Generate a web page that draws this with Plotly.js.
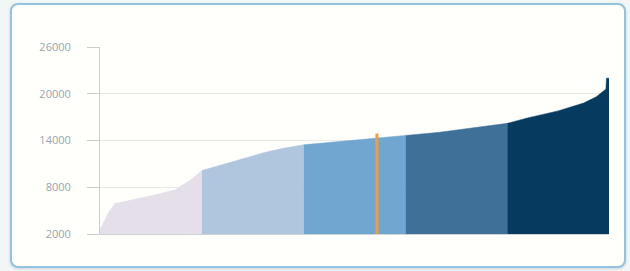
<!DOCTYPE html>
<html>
<head>
<meta charset="utf-8">
<script src="https://cdn.plot.ly/plotly-3.0.1.min.js"></script>
<style>
  html, body { margin: 0; padding: 0; width: 630px; height: 271px; background: #f3f6f7; overflow: hidden; }
  #card { position: absolute; left: 10px; top: 3px; width: 612px; height: 261px;
          border: 2px solid #95c3dd; border-radius: 8px; background: #fffffc;
          box-shadow: 0 1px 3px rgba(120,150,170,0.35); }
  #chart { position: absolute; left: 0; top: 0; width: 630px; height: 271px; }
</style>
</head>
<body>
<div id="card"></div>
<div id="chart"></div>
<script>
// percentile positions (0-100) and sorted values
const percentiles = [0, 0.4, 1.5, 2.9, 6, 10, 14.7, 17.5, 20,
                     26, 32.7, 36, 40,
                     46, 54, 60,
                     66.7, 73, 80,
                     84, 90, 95, 97.5, 98.8, 99.4, 99.5, 100];
const values = [2500, 3100, 4600, 5900, 6300, 6900, 7650, 8800, 10150,
                11240, 12520, 13000, 13450,
                13800, 14320, 14650,
                15050, 15600, 16200,
                16900, 17800, 18800, 19600, 20300, 20600, 22000, 22000];
const quintileBounds = [0, 20, 40, 60, 80, 100];
const quintileColors = ['#e5dfea', '#b0c5de', '#70a6cf', '#3f7098', '#063a5f'];
const markerPercentile = 54.4;
const markerValue = 14900;
const yTicks = [2000, 8000, 14000, 20000, 26000];
const yTickLabels = ['2000', '8000', '14000', '20000', '26000'];

const traces = [];
for (let i = 0; i < 5; i++) {
  const lo = quintileBounds[i], hi = quintileBounds[i + 1];
  const xs = [], ys = [];
  percentiles.forEach((p, k) => { if (p >= lo && p <= hi) { xs.push(p); ys.push(values[k]); } });
  traces.push({
    x: xs, y: ys, type: 'scatter', mode: 'lines', fill: 'tozeroy',
    fillcolor: quintileColors[i], line: { width: 0.5, color: quintileColors[i] },
    hoverinfo: 'skip', showlegend: false
  });
}
traces.push({
  x: [markerPercentile, markerPercentile], y: [yTicks[0], markerValue],
  type: 'scatter', mode: 'lines', line: { color: '#e9a23b', width: 3 },
  hoverinfo: 'skip', showlegend: false
});

const layout = {
  width: 630, height: 271,
  margin: { l: 100, r: 21, t: 47, b: 37 },
  paper_bgcolor: 'rgba(0,0,0,0)', plot_bgcolor: 'rgba(0,0,0,0)',
  showlegend: false,
  xaxis: { range: [0, 100], showgrid: false, zeroline: false, showticklabels: false,
           ticks: '', showline: true, linecolor: '#cfd3d6', linewidth: 1, fixedrange: true },
  yaxis: { range: [2000, 26000], tickvals: yTicks, ticktext: yTickLabels,
           showgrid: true, gridcolor: '#e8e8e8', gridwidth: 1, zeroline: false,
           showline: true, linecolor: '#c9cdd0', linewidth: 1,
           ticks: 'outside', ticklen: 12, tickcolor: '#c9cdd0', ticklabelstandoff: 14,
           tickfont: { family: 'Open Sans, sans-serif', size: 11, color: '#98a4ae' },
           layer: 'below traces', fixedrange: true }
};
Plotly.newPlot('chart', traces, layout, { displayModeBar: false, staticPlot: true });
</script>
</body>
</html>
